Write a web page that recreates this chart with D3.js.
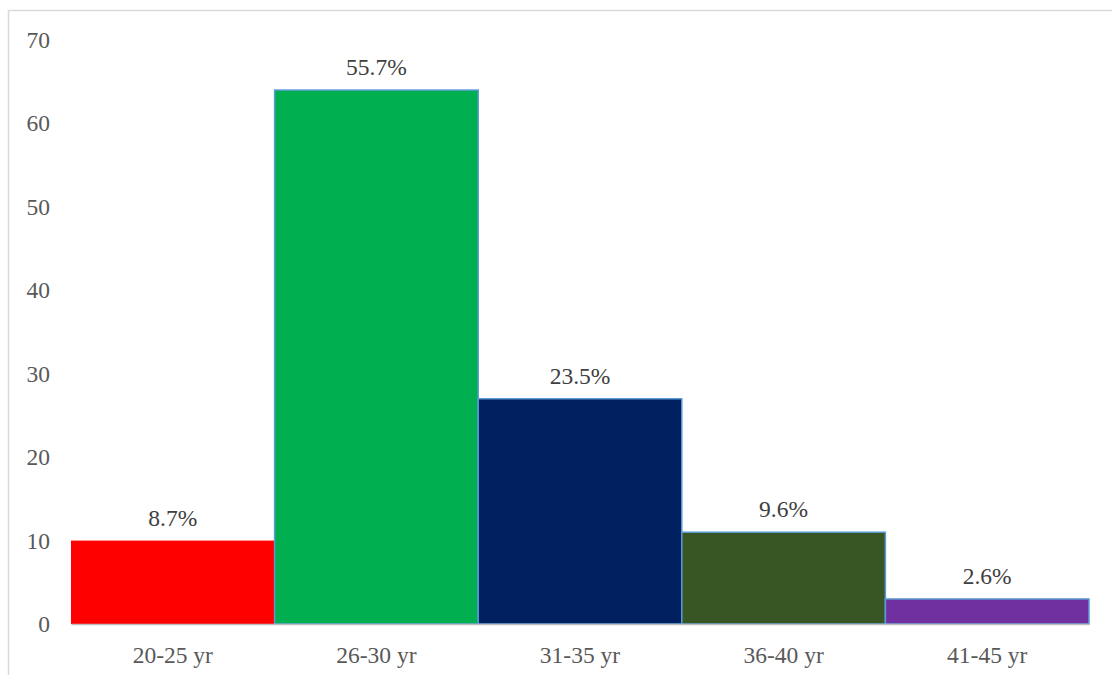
<!DOCTYPE html>
<html>
<head>
<meta charset="utf-8">
<script src="https://cdn.jsdelivr.net/npm/d3@7"></script>
<style>
  html, body { margin: 0; padding: 0; background: #ffffff; }
  svg { display: block; }
</style>
</head>
<body>
<svg id="chart" width="1112" height="675"></svg>
<script>
// Age groups, respondent counts and their share of the total
const categories = ["20-25 yr", "26-30 yr", "31-35 yr", "36-40 yr", "41-45 yr"];
const counts = [10, 64, 27, 11, 3];
const shareLabels = ["8.7%", "55.7%", "23.5%", "9.6%", "2.6%"];
const barColors = ["#ff0000", "#00b050", "#002060", "#375623", "#7030a0"];
const yTicks = [0, 10, 20, 30, 40, 50, 60, 70];

const svg = d3.select("#chart");
const font = "'Liberation Serif', 'Times New Roman', serif";
const fontSize = 23.5;

// Outer chart frame
svg.append("path")
  .attr("d", "M8.5,675 V10.5 H1112")
  .attr("fill", "none")
  .attr("stroke", "#d9d9d9")
  .attr("stroke-width", 1.5);

const plot = { left: 71, right: 1089, top: 40, bottom: 624 };

const x = d3.scaleBand()
  .domain(categories)
  .range([plot.left, plot.right])
  .padding(0);

const y = d3.scaleLinear()
  .domain([0, 70])
  .range([plot.bottom, plot.top]);

// Y axis tick labels
const yAxis = svg.append("g")
  .attr("transform", `translate(${plot.left},0)`)
  .call(d3.axisLeft(y).tickValues(yTicks).tickSize(0).tickPadding(21));
yAxis.select(".domain").remove();
yAxis.selectAll("text")
  .attr("font-family", font)
  .attr("font-size", fontSize)
  .attr("fill", "#595959");

// Bars
svg.append("g").selectAll("rect")
  .data(counts)
  .join("rect")
  .attr("x", (d, i) => x(categories[i]))
  .attr("y", d => y(d))
  .attr("width", x.bandwidth())
  .attr("height", d => y(0) - y(d))
  .attr("fill", (d, i) => barColors[i])
  .attr("stroke", (d, i) => i === 0 ? "none" : "#5b9bd5")
  .attr("stroke-width", 1.5);

// Category axis
const xAxis = svg.append("g")
  .attr("transform", `translate(0,${plot.bottom})`)
  .call(d3.axisBottom(x).tickSize(0).tickPadding(22));
xAxis.select(".domain")
  .attr("stroke", "#bfbfbf")
  .attr("stroke-width", 1.5);
xAxis.selectAll("text")
  .attr("font-family", font)
  .attr("font-size", fontSize)
  .attr("fill", "#595959");

// Percentage labels above bars
svg.append("g").selectAll("text")
  .data(counts)
  .join("text")
  .attr("x", (d, i) => x(categories[i]) + x.bandwidth() / 2)
  .attr("y", d => y(d) - 15)
  .attr("text-anchor", "middle")
  .attr("font-family", font)
  .attr("font-size", fontSize)
  .attr("fill", "#404040")
  .text((d, i) => shareLabels[i]);
</script>
</body>
</html>
